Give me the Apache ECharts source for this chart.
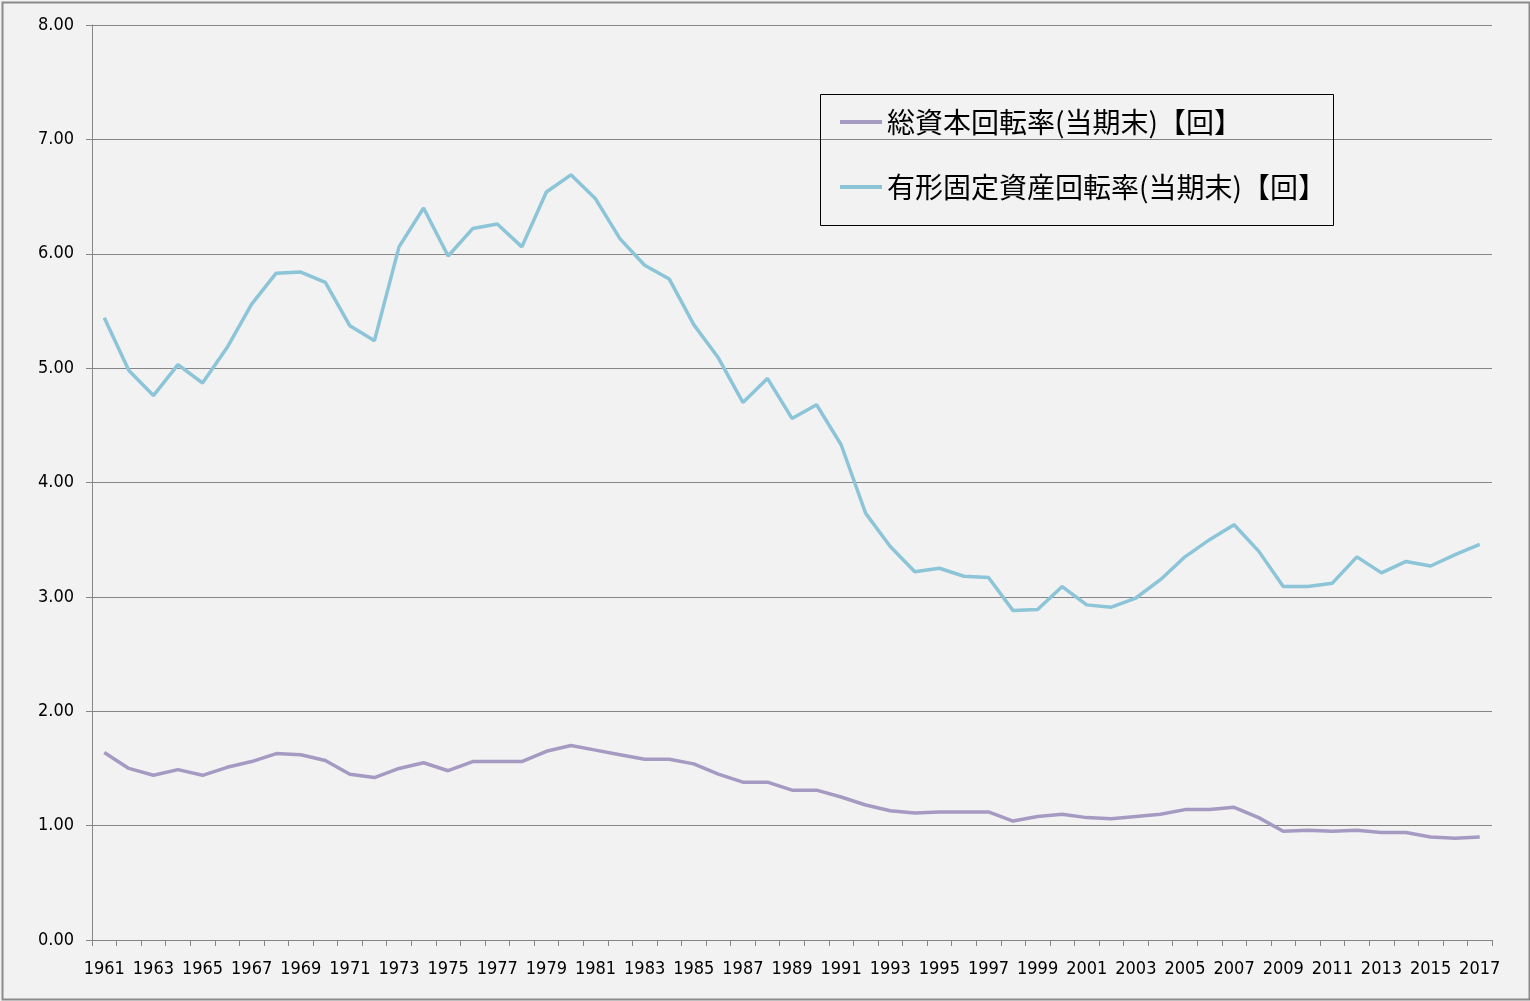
<!DOCTYPE html>
<html>
<head>
<meta charset="utf-8">
<script src="https://cdn.jsdelivr.net/npm/echarts@6/dist/echarts.min.js"></script>
<style>
html,body{margin:0;padding:0;background:#f2f2f2;}
#chart{width:1530px;height:1001px;}
</style>
</head>
<body>
<div id="chart"></div>
<script>
const years = [];
for (let y = 1961; y <= 2017; y++) years.push(String(y));

const seriesNames = ['総資本回転率(当期末)【回】', '有形固定資産回転率(当期末)【回】'];

const totalAssetTurnover = [
  1.64, 1.50, 1.44, 1.49, 1.44, 1.51, 1.56, 1.63, 1.62, 1.57,
  1.45, 1.42, 1.50, 1.55, 1.48, 1.56, 1.56, 1.56, 1.65, 1.70,
  1.66, 1.62, 1.58, 1.58, 1.54, 1.45, 1.38, 1.38, 1.31, 1.31,
  1.25, 1.18, 1.13, 1.11, 1.12, 1.12, 1.12, 1.04, 1.08, 1.10,
  1.07, 1.06, 1.08, 1.10, 1.14, 1.14, 1.16, 1.07, 0.95, 0.96,
  0.95, 0.96, 0.94, 0.94, 0.90, 0.89, 0.90
];

const fixedAssetTurnover = [
  5.44, 4.98, 4.76, 5.03, 4.87, 5.18, 5.56, 5.83, 5.84, 5.75,
  5.37, 5.24, 6.06, 6.40, 5.98, 6.22, 6.26, 6.06, 6.54, 6.69,
  6.48, 6.13, 5.90, 5.78, 5.38, 5.09, 4.70, 4.91, 4.56, 4.68,
  4.33, 3.73, 3.44, 3.22, 3.25, 3.18, 3.17, 2.88, 2.89, 3.09,
  2.93, 2.91, 2.99, 3.15, 3.35, 3.50, 3.63, 3.40, 3.09, 3.09,
  3.12, 3.35, 3.21, 3.31, 3.27, 3.37, 3.46
];

const yTicks = { min: 0, max: 8, interval: 1 };

const chart = echarts.init(document.getElementById('chart'), null, { renderer: 'canvas' });
const axisGray = '#868686';
const labelFont = '"DejaVu Sans Condensed", "DejaVu Sans", sans-serif';

chart.setOption({
  backgroundColor: '#f2f2f2',
  animation: false,
  grid: { left: 92, right: 38, top: 25, bottom: 61, containLabel: false },
  xAxis: {
    type: 'category',
    data: years,
    boundaryGap: true,
    axisLine: { show: true, lineStyle: { color: axisGray, width: 1 } },
    axisTick: { show: true, interval: 0, length: 6, lineStyle: { color: axisGray } },
    axisLabel: { interval: 1, margin: 20, color: '#000', fontSize: 18, fontFamily: labelFont },
    splitLine: { show: false }
  },
  yAxis: {
    type: 'value',
    min: yTicks.min, max: yTicks.max, interval: yTicks.interval,
    axisLine: { show: true, lineStyle: { color: axisGray, width: 1 } },
    axisTick: { show: true, length: 6, lineStyle: { color: axisGray } },
    axisLabel: { margin: 18, color: '#000', fontSize: 18, fontFamily: labelFont,
      formatter: v => v.toFixed(2) },
    splitLine: { show: true, lineStyle: { color: axisGray, width: 1 } }
  },
  legend: {
    orient: 'vertical',
    left: 835, top: 103,
    itemGap: 37,
    itemWidth: 42, itemHeight: 4,
    icon: 'rect',
    textStyle: { color: '#000', fontSize: 28, fontFamily: '"Noto Sans CJK JP", sans-serif' },
    data: seriesNames
  },
  graphic: [
    { type: 'rect', left: 818, top: 92, shape: { width: 513, height: 131 },
      style: { fill: 'none', stroke: '#000', lineWidth: 1 }, z: 100 },
    { type: 'rect', left: 0, top: 0, shape: { x: 1, y: 1, width: 1527, height: 997 },
      style: { fill: 'none', stroke: '#8a8a8a', lineWidth: 2 }, z: 100 }
  ],
  series: [
    { name: seriesNames[0], type: 'line', data: totalAssetTurnover, showSymbol: false, symbol: 'none',
      lineStyle: { color: '#a59bc2', width: 3.5 }, itemStyle: { color: '#a59bc2' } },
    { name: seriesNames[1], type: 'line', data: fixedAssetTurnover, showSymbol: false, symbol: 'none',
      lineStyle: { color: '#8cc4d8', width: 3.5 }, itemStyle: { color: '#8cc4d8' } }
  ]
});
</script>
</body>
</html>
